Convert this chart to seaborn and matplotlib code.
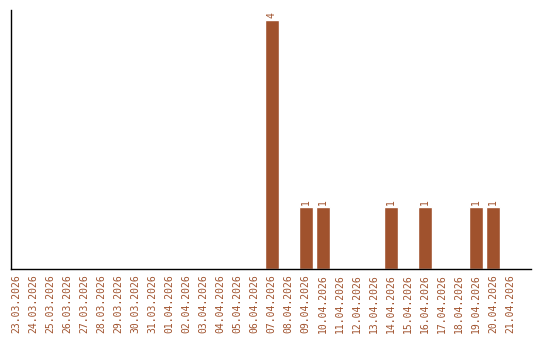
import matplotlib
matplotlib.use("Agg")
import matplotlib.pyplot as plt
import seaborn as sns
import pandas as pd

dates = ["23.03.2026", "24.03.2026", "25.03.2026", "26.03.2026", "27.03.2026",
         "28.03.2026", "29.03.2026", "30.03.2026", "31.03.2026", "01.04.2026",
         "02.04.2026", "03.04.2026", "04.04.2026", "05.04.2026", "06.04.2026",
         "07.04.2026", "08.04.2026", "09.04.2026", "10.04.2026", "11.04.2026",
         "12.04.2026", "13.04.2026", "14.04.2026", "15.04.2026", "16.04.2026",
         "17.04.2026", "18.04.2026", "19.04.2026", "20.04.2026", "21.04.2026"]
counts = [0, 0, 0, 0, 0, 0, 0, 0, 0, 0, 0, 0, 0, 0, 0,
          4, 0, 1, 1, 0, 0, 0, 1, 0, 1, 0, 0, 1, 1, 0]

color = "#A0522D"
df = pd.DataFrame({"date": dates, "count": counts})

sns.set_style("white")
fig = plt.figure(figsize=(5.4, 3.4), dpi=100)
ax = fig.add_axes([10.5 / 540, 1 - 269 / 340, 520 / 540, 259 / 340])
sns.barplot(data=df, x="date", y="count", color=color, saturation=1, width=0.82, ax=ax)

for p, v in zip(ax.patches, counts):
    if v > 0:
        ax.text(p.get_x() + p.get_width() / 2, v + 0.03, str(v), rotation=90,
                ha="center", va="bottom", color=color, fontsize=7,
                family="DejaVu Sans Mono")

ax.set_xlim(-0.35, 30.2)
ax.set_ylim(0, 4.16)
ax.set_xlabel("")
ax.set_ylabel("")
ax.set_yticks([])
ax.tick_params(axis="x", length=0, pad=4)
ax.set_xticks(range(len(dates)))
ax.set_xticklabels(dates, rotation=90, color=color, fontsize=7, family="DejaVu Sans Mono")
for s in ["top", "right"]:
    ax.spines[s].set_visible(False)
for s in ["left", "bottom"]:
    ax.spines[s].set_color("black")
    ax.spines[s].set_linewidth(1)

fig.savefig("out.png", dpi=100)
